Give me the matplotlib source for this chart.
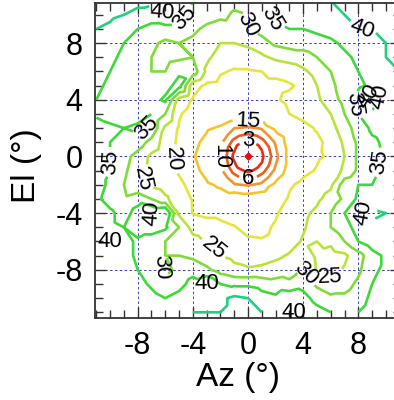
import numpy as np
import matplotlib
matplotlib.use("Agg")
import matplotlib.pyplot as plt
import matplotlib.tri as mtri
from matplotlib.ticker import MultipleLocator

plt.rcParams["font.family"] = ["Liberation Sans", "DejaVu Sans"]
plt.rcParams["axes.unicode_minus"] = False

# sampling grid of the beam map (degrees)
az_deg = [-11, -10, -9, -8, -7, -6, -5, -4, -3, -2, -1, 0, 1, 2, 3, 4, 5, 6, 7, 8, 9, 10, 11]
el_deg = [11, 10, 9, 8, 7, 6, 5, 4, 3, 2, 1, 0, -1, -2, -3, -4, -5, -6, -7, -8, -9, -10, -11]

# attenuation relative to beam peak (dB), one row per elevation
atten_db = [
    [44, 43, 42, 41, 41, 41, 38, 35, 33, 32, 31, 31, 33, 36, 37, 38, 39, 40, 41, 42, 42, 43, 44],
    [42, 41, 40, 39, 38, 40, 37, 34, 32, 31, 29.5, 30, 33, 36, 36, 37, 38, 39, 40, 41, 41, 42, 43],
    [40, 39, 37, 35, 33, 33, 33, 31, 29, 28, 28.5, 30, 32, 34, 35, 35, 36, 37, 38, 40, 40, 41, 42],
    [39, 37, 35, 33, 31, 29, 30, 29, 27, 25, 25, 26, 28, 31, 32, 32, 33, 34, 36, 38, 39, 40, 41],
    [38, 36, 34, 32, 30, 28, 29, 30, 26, 23, 22, 22.5, 24, 26, 27, 28, 30, 32, 34, 36, 38, 40, 41],
    [37, 35, 33, 31, 30, 30, 34, 33, 24, 20.5, 19.5, 19.5, 20, 21, 22, 24, 27, 30, 33, 35, 37, 39, 40],
    [36, 34, 32, 31, 30, 33, 37, 22, 19, 18.5, 18.5, 18.5, 19, 19, 19.5, 21, 25, 29, 32, 34, 36, 38, 39],
    [35, 33, 32, 31, 33, 36, 23, 19.5, 18, 17.5, 17.5, 18, 18, 19.5, 21, 22, 24, 28, 31.5, 37.5, 42, 38.5, 37],
    [34, 33, 32, 33, 35, 30, 20.5, 18, 17, 17.5, 17, 17, 17, 17.5, 20, 21, 22, 25, 30, 35, 39, 38, 36],
    [38, 36, 35, 36, 34.5, 24, 19.5, 17, 15.5, 14.5, 10, 9, 10.5, 16, 18, 19, 20.3, 23, 28, 32, 36, 37, 35],
    [37, 35, 33, 33, 28, 23, 19, 16, 14, 11, 4.3, 2.3, 4.5, 10.5, 17, 18.5, 19.3, 21, 26, 31, 34, 36, 35],
    [37, 35, 32, 28, 24, 22, 18.5, 15.3, 13.5, 10, 2.2, 0, 2.5, 8.5, 17, 18.5, 19.5, 20.5, 25, 31, 34, 35.5, 35],
    [37, 35, 31, 27, 23.5, 22, 19.5, 16, 14, 11, 4.5, 2.4, 4.8, 11, 17, 19, 20.3, 22, 26, 31, 34, 36, 35],
    [37, 34, 30, 26, 24, 22.5, 21, 18.5, 15.5, 14.5, 10.5, 9.5, 11, 16, 19.5, 21, 22, 24, 33, 35, 35, 36, 36],
    [36, 33, 31, 33, 30, 26, 22, 19.7, 17, 16.5, 17, 17.5, 17.5, 18, 20.5, 22, 24, 27, 31, 36, 37, 37, 37],
    [37, 36, 33, 37, 40, 41, 24, 19.8, 19, 19, 18.5, 18, 18.5, 19.5, 22, 24, 26, 30, 35, 39.5, 41, 40, 38],
    [37, 36, 35, 38, 38, 36, 30, 23, 22, 21, 20.2, 19, 19, 20.5, 22, 24.5, 27, 30, 33, 37, 39, 38, 37],
    [38, 40, 37, 34, 32, 30, 28, 27, 24.5, 23, 22, 20.5, 20.3, 21, 23, 25.5, 25, 26, 30, 35, 38, 38, 37],
    [37, 38, 37, 34, 31, 30, 30, 29, 27, 25, 24, 23, 23, 24, 25.5, 28, 24, 23, 24, 28, 33, 36, 37],
    [36, 37, 38, 35, 32, 29, 31, 33, 31, 28, 26, 25.5, 26, 27, 28, 30.5, 24.5, 23, 25.5, 29, 34, 36, 37],
    [36, 37, 38, 37, 34, 31, 33, 37, 40, 35, 34, 34, 33, 32, 31, 33, 29, 27, 28, 31, 35, 37, 38],
    [37, 38, 38, 38, 37, 35, 37, 39, 38, 39, 41, 40, 37, 36, 39, 37, 33, 31, 31, 33, 36, 38, 39],
    [38, 39, 39, 39, 38, 38, 39, 40, 40, 40, 41, 41, 40, 39, 40, 40, 37, 35, 34, 35, 37, 39, 40],
]

# extra samples around the main lobe, on rings (radius in deg, azimuth angle in deg)
ring_angle_deg = [0, 22.5, 45, 67.5, 90, 112.5, 135, 157.5,
                  180, 202.5, 225, 247.5, 270, 292.5, 315, 337.5]
ring_radius_deg = [0.7, 1.5, 2.5]
ring_db = [
    [1.2, 1.2, 1.2, 1.2, 1.2, 1.2, 1.2, 1.2, 1.2, 1.2, 1.2, 1.2, 1.2, 1.2, 1.2, 1.2],
    [4.6, 4.8, 5.0, 5.3, 5.5, 5.4, 5.2, 5.3, 5.5, 5.4, 5.2, 5.4, 5.6, 5.4, 5.1, 4.8],
    [12.7, 13.0, 13.5, 14.5, 15.0, 14.0, 13.0, 12.0, 11.3, 12.0, 13.0, 14.0, 14.2, 14.0, 13.5, 13.0],
]

level_db = [3, 6, 10, 15, 20, 25, 30, 35, 40]
level_colors = ["#ee2a10", "#f05a1e", "#f39230", "#f4c42c", "#e4e63a",
                "#b8e43a", "#7fdc38", "#3ed838", "#1fd27a"]

beam_az = [0.0]
beam_el = [0.0]

# where each contour gets its number
label_spots = {
    3: [(0.0, 1.2)],
    6: [(0.0, -1.6)],
    10: [(-2.2, 0.0)],
    15: [(0.0, 2.6)],
    20: [(-5.4, -0.2)],
    25: [(-7.8, -1.6), (-2.2, -6.1), (5.9, -8.6)],
    30: [(-0.7, 9.3), (-6.4, -7.8), (4.3, -8.2)],
    35: [(-4.6, 9.8), (1.5, 9.5), (7.3, 3.5), (-7.1, 1.9), (-9.9, -0.4), (9.8, -0.5)],
    40: [(-6.2, 10.2), (8.3, 9.3), (8.6, 4.3), (9.5, 4.2), (-7.6, -4.2),
         (7.9, -4.2), (-9.8, -6.4), (-2.8, -9.0), (3.3, -10.2)],
}

# merge the regular grid and the ring samples into one scattered set
gx, gy = np.meshgrid(az_deg, el_deg)
ang = np.deg2rad(ring_angle_deg)
rx = np.concatenate([r * np.cos(ang) for r in ring_radius_deg])
ry = np.concatenate([r * np.sin(ang) for r in ring_radius_deg])
px = np.concatenate([gx.ravel(), rx])
py = np.concatenate([gy.ravel(), ry])
pz = np.concatenate([np.array(atten_db, dtype=float).ravel(), np.ravel(ring_db)])
tri = mtri.Triangulation(px, py)

fig = plt.figure(figsize=(3.94, 4.0), dpi=100)
ax = fig.add_axes([0.241, 0.204, 0.777, 0.788])

# one contour set per level so each label lands on its own line
for lev, col in zip(level_db, level_colors):
    cs = ax.tricontour(tri, pz, levels=[lev], colors=[col], linewidths=1.9)
    ax.clabel(cs, manual=label_spots[lev], inline=True, inline_spacing=3,
              fontsize=16, colors="black", fmt="%d")

ax.plot(beam_az, beam_el, marker="D", color="red", ms=3.5, ls="none")

ax.set_xlim(-11.1, 11.1)
ax.set_ylim(-11.43, 10.82)
ax.set_xticks([-8, -4, 0, 4, 8])
ax.set_yticks([-8, -4, 0, 4, 8])
ax.xaxis.set_minor_locator(MultipleLocator(1))
ax.yaxis.set_minor_locator(MultipleLocator(1))
ax.tick_params(which="both", direction="in", top=True, right=True,
               labelsize=22, width=1.0, color="#333333")
ax.tick_params(which="major", length=8, pad=9)
ax.tick_params(which="minor", length=5.5)
ax.grid(True, which="major", color="#3c3cc0", linestyle=(0, (2.5, 2.5)), linewidth=0.7)
ax.set_axisbelow(True)
for sp in ax.spines.values():
    sp.set_linewidth(1.3)
    sp.set_color("#333333")

ax.set_xlabel("Az (°)", fontsize=24, va="center")
ax.xaxis.set_label_coords(0.467, -0.186)
ax.set_ylabel("El (°)", fontsize=24, va="center", ha="center")
ax.yaxis.set_label_coords(-0.225, 0.486)

fig.savefig("out.png", dpi=100)
